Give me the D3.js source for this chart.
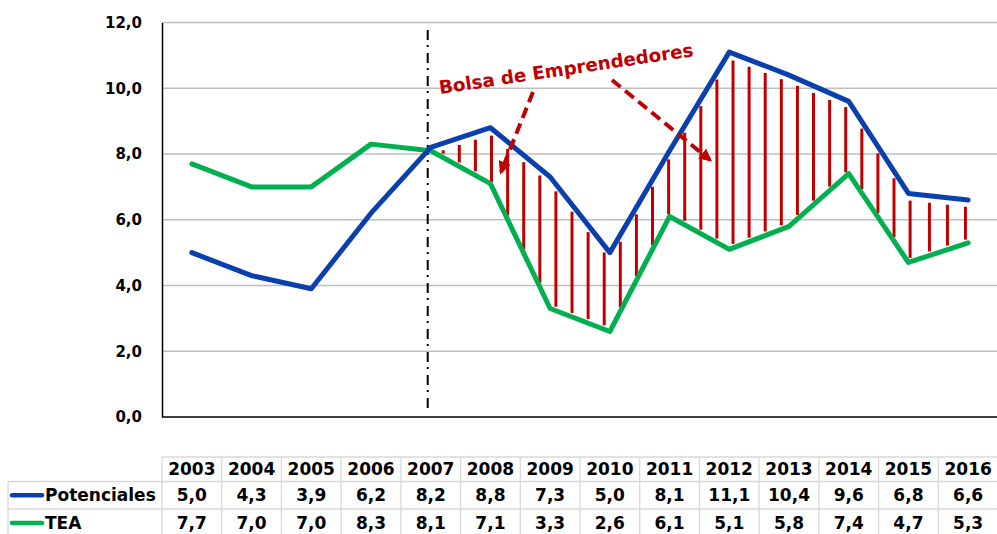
<!DOCTYPE html>
<html><head><meta charset="utf-8">
<script src="https://cdn.jsdelivr.net/npm/d3@7"></script>
<style>
body{margin:0;background:#fff;}
svg{display:block;font-family:"DejaVu Sans",Verdana,sans-serif;font-weight:bold;}
</style></head>
<body><svg id="c" width="997" height="534"></svg>
<script>
const years = ["2003","2004","2005","2006","2007","2008","2009","2010","2011","2012","2013","2014","2015","2016"];
const potenciales = [5.0,4.3,3.9,6.2,8.2,8.8,7.3,5.0,8.1,11.1,10.4,9.6,6.8,6.6];
const tea = [7.7,7.0,7.0,8.3,8.1,7.1,3.3,2.6,6.1,5.1,5.8,7.4,4.7,5.3];
const yTicks = [0,2,4,6,8,10,12];
const seriesNames = ["Potenciales","TEA"];
const annotation = "Bolsa de Emprendedores";
const markerYear = "2007";

const blue = "#0a3fae", green = "#00b050", red = "#c00000";
const svg = d3.select("#c");
const fmt = v => d3.format(".1f")(v).replace(".", ",");

const band = d3.scaleBand().domain(years).range([162, 998]);
const x = d => band(d) + band.bandwidth()/2;
const y = d3.scaleLinear().domain([0,12]).range([417, 22.5]);
const left = 162, right = 997;

// gridlines
svg.append("g").selectAll("line").data(yTicks.filter(t=>t>0)).join("line")
  .attr("x1", left).attr("x2", right).attr("y1", d=>y(d)).attr("y2", d=>y(d))
  .attr("stroke", "#bfbfbf").attr("stroke-width", 1.3);

// y axis
const yAxis = svg.append("g").attr("transform", `translate(${left},0)`)
  .call(d3.axisLeft(y).tickValues(yTicks).tickFormat(fmt).tickSize(0).tickPadding(20));
yAxis.select(".domain").attr("stroke", "#000").attr("stroke-width", 1.5);
yAxis.selectAll("text").attr("font-size", 15).attr("font-weight", "bold").attr("fill", "#000")
  .attr("font-family", "DejaVu Sans, Verdana, sans-serif");

// x axis baseline
svg.append("line").attr("x1", left).attr("x2", right).attr("y1", y(0)).attr("y2", y(0))
  .attr("stroke", "#000").attr("stroke-width", 1.5);

// hatch between series (from 2007 onward)
const i0 = years.indexOf(markerYear);
function interp(arr, px) {
  for (let i = i0; i < years.length - 1; i++) {
    const xa = x(years[i]), xb = x(years[i+1]);
    if (px >= xa && px <= xb) {
      const t = (px - xa) / (xb - xa);
      return arr[i] + t * (arr[i+1] - arr[i]);
    }
  }
  return null;
}
const x2015 = x(years[years.length-2]), xEnd = x(years[years.length-1]);
const hatchX = d3.range(x(markerYear) + 12.5, x2015 + 2, 16.1)
  .concat(d3.range(x2015 + 21, xEnd + 1, 18));
svg.append("g").selectAll("line").data(hatchX).join("line")
  .attr("x1", d=>d).attr("x2", d=>d)
  .attr("y1", d => y(interp(potenciales, d)) + 7)
  .attr("y2", d => y(interp(tea, d)) - 4)
  .attr("stroke", red).attr("stroke-width", 3);

// marker vertical dash-dot line
svg.append("line").attr("x1", x(markerYear)-3).attr("x2", x(markerYear)-3)
  .attr("y1", 30).attr("y2", 413)
  .attr("stroke", "#000").attr("stroke-width", 2).attr("stroke-dasharray", "10 5 2 6");

// lines
const line = d3.line().x((d,i)=>x(years[i])).y(d=>y(d));
svg.append("path").datum(tea).attr("d", line).attr("fill","none")
  .attr("stroke", green).attr("stroke-width", 5).attr("stroke-linejoin","round").attr("stroke-linecap","round");
svg.append("path").datum(potenciales).attr("d", line).attr("fill","none")
  .attr("stroke", blue).attr("stroke-width", 5).attr("stroke-linejoin","round").attr("stroke-linecap","round");

// annotation
svg.append("text").attr("x", 567).attr("y", 75).attr("text-anchor","middle")
  .attr("transform", "rotate(-8.5,567,75)")
  .attr("font-size", 18.3).attr("fill", red).text(annotation);

// arrows
const defs = svg.append("defs");
defs.append("marker").attr("id","ah").attr("viewBox","0 0 10 10").attr("refX",8).attr("refY",5)
  .attr("markerWidth",3.2).attr("markerHeight",3.2).attr("orient","auto")
  .append("path").attr("d","M0,0 L10,5 L0,10 z").attr("fill", red);
const arrows = [[533,92,501,172],[612,80,710,160]];
svg.append("g").selectAll("line").data(arrows).join("line")
  .attr("x1",d=>d[0]).attr("y1",d=>d[1]).attr("x2",d=>d[2]).attr("y2",d=>d[3])
  .attr("stroke", red).attr("stroke-width", 4).attr("stroke-dasharray","11 6")
  .attr("marker-end","url(#ah)");

// table
const rowTops = [457, 481.5, 509, 537];
const tg = svg.append("g").attr("stroke", "#d9d9d9").attr("stroke-width", 1.3);
// horizontal lines
tg.append("line").attr("x1", left).attr("x2", 998).attr("y1", rowTops[0]).attr("y2", rowTops[0]);
[1,2].forEach(r => tg.append("line").attr("x1", 8).attr("x2", 998).attr("y1", rowTops[r]).attr("y2", rowTops[r]));
// vertical lines
tg.append("line").attr("x1", 8).attr("x2", 8).attr("y1", rowTops[1]).attr("y2", rowTops[3]);
years.forEach(yr => tg.append("line").attr("x1", band(yr)).attr("x2", band(yr)).attr("y1", rowTops[0]).attr("y2", rowTops[3]));

const tt = svg.append("g").attr("font-size", 17).attr("fill", "#000").attr("text-anchor","middle");
tt.selectAll("text.h").data(years).join("text").attr("class","h")
  .attr("x", d=>x(d)).attr("y", (rowTops[0]+rowTops[1])/2).attr("dy","0.36em").text(d=>d);
[potenciales, tea].forEach((arr, r) => {
  const cy = (rowTops[r+1] + rowTops[r+2]) / 2;
  tt.append("g").selectAll("text").data(arr).join("text")
    .attr("x", (d,i)=>x(years[i])).attr("y", cy).attr("dy","0.36em").text(d=>fmt(d));
  svg.append("line").attr("x1", 12).attr("x2", 42).attr("y1", cy).attr("y2", cy)
    .attr("stroke", r===0?blue:green).attr("stroke-width", 4.5).attr("stroke-linecap","round");
  svg.append("text").attr("x", 45).attr("y", cy).attr("dy","0.36em")
    .attr("font-size", 17).attr("fill","#000").text(seriesNames[r]);
});
</script></body></html>
